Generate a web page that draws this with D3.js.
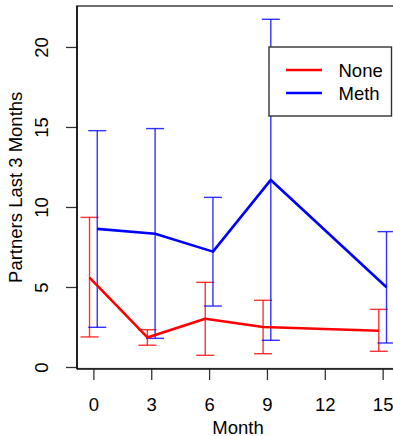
<!DOCTYPE html>
<html>
<head>
<meta charset="utf-8">
<script src="https://cdn.jsdelivr.net/npm/d3@7"></script>
<style>
  html, body { margin: 0; padding: 0; background: #fff; }
  svg { display: block; }
  text { font-family: "Liberation Sans", Arial, sans-serif; fill: #000; }
</style>
</head>
<body>
<svg id="chart" width="393" height="436"></svg>
<script>
// Months of follow-up
const months = [0, 3, 6, 9, 15];
const xTicks = [0, 3, 6, 9, 12, 15];
const yTicks = [0, 5, 10, 15, 20];

// Group "None": mean and error-bar limits
const noneMean  = [5.58, 1.85, 3.02, 2.50, 2.27];
const noneLower = [1.88, 1.36, 0.73, 0.83, 0.98];
const noneUpper = [9.35, 2.33, 5.29, 4.17, 3.60];

// Group "Meth": mean and error-bar limits
const methMean  = [8.63, 8.33, 7.21, 11.69, 4.98];
const methLower = [2.48, 1.79, 3.81, 1.67, 1.50];
const methUpper = [14.77, 14.90, 10.60, 21.73, 8.46];

const seriesNames = ["None", "Meth"];
const seriesColors = ["#ff0000", "#0000ff"];

const svg = d3.select("#chart");
const W = 393, H = 436;
const plotLeft = 77, plotTop = 6, plotBottom = 368.6, plotRight = 400;

const x = d3.scaleLinear().domain([-0.85, 15.9]).range([plotLeft, plotRight]);
const y = d3.scaleLinear().domain([-0.1, 22.56]).range([plotBottom, plotTop]);

const fontSize = 18.5;
const dodge = 0.2;     // horizontal offset of each group (months)
const capHalf = 9;     // half width of error-bar caps (px)

// Plot frame
svg.append("rect")
  .attr("x", plotLeft).attr("y", plotTop)
  .attr("width", plotRight - plotLeft).attr("height", plotBottom - plotTop)
  .attr("fill", "none").attr("stroke", "#333").attr("stroke-width", 1.4);

const series = [
  { name: seriesNames[0], color: seriesColors[0], mean: noneMean, lo: noneLower, hi: noneUpper, off: -dodge },
  { name: seriesNames[1], color: seriesColors[1], mean: methMean, lo: methLower, hi: methUpper, off: dodge }
];

// Error bars
series.forEach(s => {
  const g = svg.append("g").attr("stroke", s.color).attr("stroke-width", 1.4)
    .attr("stroke-opacity", 0.8).attr("fill", "none");
  months.forEach((m, i) => {
    const cx = x(m + s.off);
    g.append("line").attr("x1", cx).attr("x2", cx).attr("y1", y(s.lo[i])).attr("y2", y(s.hi[i]));
    g.append("line").attr("x1", cx - capHalf).attr("x2", cx + capHalf).attr("y1", y(s.lo[i])).attr("y2", y(s.lo[i]));
    g.append("line").attr("x1", cx - capHalf).attr("x2", cx + capHalf).attr("y1", y(s.hi[i])).attr("y2", y(s.hi[i]));
  });
});

// Mean lines
series.forEach(s => {
  const line = d3.line().x((d, i) => x(months[i] + s.off)).y(d => y(d));
  svg.append("path").datum(s.mean)
    .attr("d", line)
    .attr("fill", "none").attr("stroke", s.color).attr("stroke-width", 2.6)
    .attr("stroke-linejoin", "round");
});

// X axis
const xAxisY = 369;
const xAxis = svg.append("g").attr("transform", `translate(0,${xAxisY})`)
  .call(d3.axisBottom(x).tickValues(xTicks).tickSize(11).tickPadding(18).tickSizeOuter(0));
xAxis.select(".domain").remove();
xAxis.selectAll(".tick line").attr("stroke", "#333").attr("stroke-width", 1.3);
xAxis.selectAll(".tick text").attr("font-size", fontSize).attr("fill", "#000")
  .attr("font-family", "Liberation Sans, Arial, sans-serif");
svg.append("line").attr("x1", plotLeft).attr("x2", W).attr("y1", xAxisY).attr("y2", xAxisY)
  .attr("stroke", "#222").attr("stroke-width", 1.4);

// Y axis with rotated labels
const yAxis = svg.append("g").attr("transform", `translate(${plotLeft},0)`)
  .call(d3.axisLeft(y).tickValues(yTicks).tickSize(11).tickSizeOuter(0));
yAxis.select(".domain").remove();
yAxis.selectAll(".tick line").attr("stroke", "#333").attr("stroke-width", 1.3);
yAxis.selectAll(".tick text").remove();
yAxis.selectAll(".tick").append("text")
  .attr("transform", "translate(-28.7,0) rotate(-90)")
  .attr("text-anchor", "middle")
  .attr("font-size", fontSize)
  .attr("font-family", "Liberation Sans, Arial, sans-serif")
  .attr("fill", "#000")
  .text(d => d);
svg.append("line").attr("x1", plotLeft).attr("x2", plotLeft).attr("y1", plotTop).attr("y2", xAxisY)
  .attr("stroke", "#000").attr("stroke-width", 1.4);

// Axis titles
svg.append("text")
  .attr("x", x(7.5)).attr("y", 434)
  .attr("text-anchor", "middle").attr("font-size", fontSize)
  .text("Month");
svg.append("text")
  .attr("transform", `translate(22,${(plotTop + plotBottom) / 2}) rotate(-90)`)
  .attr("text-anchor", "middle").attr("font-size", fontSize)
  .text("Partners Last 3 Months");

// Legend
const legend = svg.append("g").attr("transform", "translate(269,47)");
legend.append("rect").attr("x", 0).attr("y", 0).attr("width", 122.5).attr("height", 69)
  .attr("fill", "#fff").attr("stroke", "#333").attr("stroke-width", 1.4);
series.forEach((s, i) => {
  const ly = 23 + i * 23;
  legend.append("line").attr("x1", 17).attr("x2", 53).attr("y1", ly).attr("y2", ly)
    .attr("stroke", s.color).attr("stroke-width", 2.6);
  legend.append("text").attr("x", 69.5).attr("y", ly + 6.5)
    .attr("font-size", fontSize).text(s.name);
});
</script>
</body>
</html>
